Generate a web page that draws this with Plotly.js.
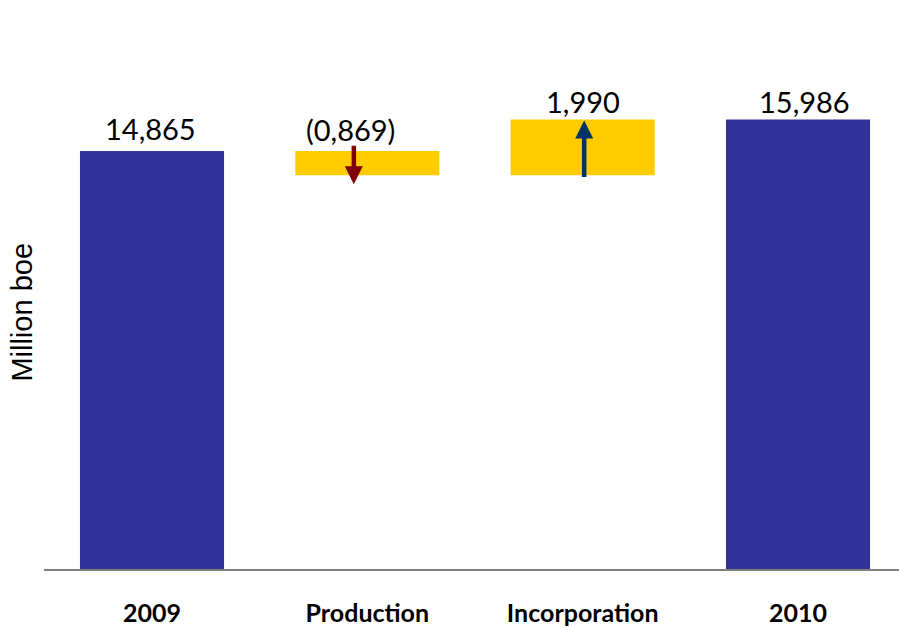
<!DOCTYPE html>
<html>
<head>
<meta charset="utf-8">
<script src="https://cdn.plot.ly/plotly-3.0.1.min.js"></script>
<style>
  html, body { margin: 0; padding: 0; background: #ffffff; }
  #chart { width: 899px; height: 627px; }
</style>
</head>
<body>
<div id="chart"></div>
<script>
// Reserves bridge, million boe
const categories = ['2009', 'Production', 'Incorporation', '2010'];
const opening = 14.865;
const production = -0.869;
const incorporation = 1.990;
const closing = 15.986;

const kinds = ['total', 'delta', 'delta', 'total'];
const values = [opening, production, incorporation, closing];

// running totals give the floating bases of the change bars
const bases = [];
const heights = [];
let running = 0;
values.forEach((v, i) => {
  if (kinds[i] === 'total') {
    bases.push(0);
    heights.push(v);
    running = v;
  } else {
    const next = running + v;
    bases.push(Math.min(running, next));
    heights.push(Math.abs(v));
    running = next;
  }
});
const tops = bases.map((b, i) => b + heights[i]);
const bottoms = bases.slice();

// number formatting with decimal comma; decreases in parentheses
const fmt = v => {
  const s = Math.abs(v).toFixed(3).replace('.', ',');
  return v < 0 ? '(' + s + ')' : s;
};

const NAVY = '#333399';
const GOLD = '#FFCC00';
const colors = kinds.map(k => (k === 'total' ? NAVY : GOLD));

const bars = {
  type: 'bar',
  x: categories,
  y: heights,
  base: bases,
  width: 0.669,
  marker: { color: colors, line: { width: 0 } },
  hoverinfo: 'skip'
};

// label placement tweaks (pixels)
const labelDx = [-2, -17, 0, 6];
const labelDy = [3, 2, -2, -2];

// category positions are addressed by index on the category axis
const annotations = categories.map((c, i) => ({
  x: i, y: tops[i], xref: 'x', yref: 'y',
  text: fmt(values[i]),
  showarrow: false,
  xanchor: 'center', yanchor: 'bottom',
  xshift: labelDx[i], yshift: labelDy[i],
  font: { family: 'Lato, "Open Sans", sans-serif', size: 29, color: '#000000' }
}));

// direction arrows on the change bars
categories.forEach((c, i) => {
  if (kinds[i] !== 'delta') return;
  const down = values[i] < 0;
  annotations.push({
    x: i, xref: 'x', yref: 'y',
    y: down ? bottoms[i] : tops[i],
    text: '',
    showarrow: true,
    arrowhead: 2,
    arrowsize: 0.8,
    arrowwidth: 4.5,
    arrowcolor: down ? '#7F0000' : '#003366',
    ax: 0,
    ay: down ? -40 : 58,
    axref: 'pixel', ayref: 'pixel',
    xshift: down ? -13.5 : 1.5,
    yshift: down ? -9 : -1,
    standoff: 0, startstandoff: 0
  });
});

// vertical axis caption
annotations.push({
  text: 'Million boe',
  xref: 'paper', yref: 'paper',
  x: 0, y: 0.467,
  xanchor: 'center', yanchor: 'middle',
  xshift: -22,
  textangle: -90,
  showarrow: false,
  font: { family: '"Liberation Sans", Arial, sans-serif', size: 29, color: '#000000' }
});

const layout = {
  width: 899,
  height: 627,
  margin: { l: 44, r: 0, t: 20, b: 58, pad: 0 },
  paper_bgcolor: '#ffffff',
  plot_bgcolor: '#ffffff',
  showlegend: false,
  xaxis: {
    type: 'category',
    range: [-0.5016, 3.469],
    showline: true,
    linecolor: '#7F7F7F',
    linewidth: 1.5,
    ticks: '',
    showgrid: false,
    zeroline: false,
    ticklabelstandoff: 21,
    tickfont: { family: 'Lato, "Open Sans", sans-serif', size: 25, color: '#000000', weight: 'bold' },
    fixedrange: true
  },
  yaxis: {
    range: [0, 19.52],
    showline: false,
    showgrid: false,
    zeroline: false,
    showticklabels: false,
    ticks: '',
    fixedrange: true
  },
  annotations: annotations
};

Plotly.newPlot('chart', [bars], layout, { displayModeBar: false, staticPlot: true });
</script>
</body>
</html>
